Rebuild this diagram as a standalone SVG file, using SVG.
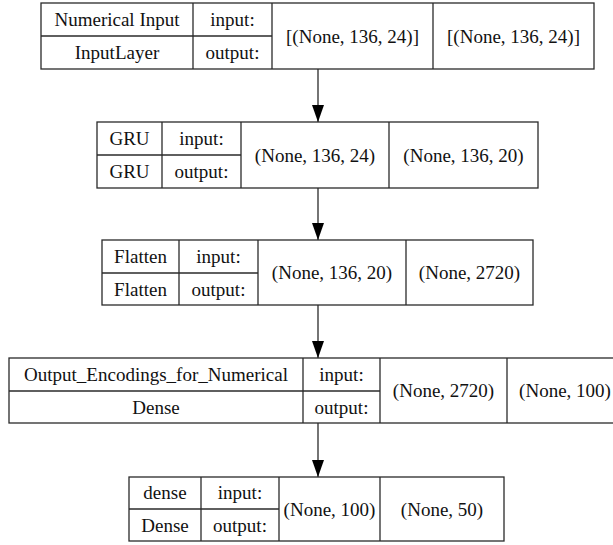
<svg xmlns="http://www.w3.org/2000/svg" width="613" height="545" viewBox="0 0 613 545">
<defs>
<style>
.b{fill:#fff;stroke:#2a2a2a;stroke-width:1.3}
.l{stroke:#2a2a2a;stroke-width:1.3;fill:none}
text{font-family:Liberation Serif,Times New Roman,Times,Noto Serif,serif;font-size:19px;fill:#111;text-anchor:middle}
</style>
<marker id="ah" markerWidth="17" markerHeight="12" refX="17" refY="6" orient="auto" markerUnits="userSpaceOnUse" viewBox="0 0 17 12">
<path d="M0,0 L17,6 L0,12 Z" fill="#000"/>
</marker>
</defs>
<rect width="613" height="545" fill="#fff"/>
<g id="connectors">
<line class="l" x1="318" y1="69" x2="318" y2="122" marker-end="url(#ah)"/>
<line class="l" x1="318" y1="188" x2="318" y2="240" marker-end="url(#ah)"/>
<line class="l" x1="318" y1="305" x2="318" y2="358" marker-end="url(#ah)"/>
<line class="l" x1="318" y1="423" x2="318" y2="477" marker-end="url(#ah)"/>
</g>
<g id="node-numerical-input">
<rect class="b" x="41" y="3" width="553" height="66"/>
<line class="l" x1="41" y1="36" x2="272" y2="36"/>
<line class="l" x1="193" y1="3" x2="193" y2="69"/>
<line class="l" x1="272" y1="3" x2="272" y2="69"/>
<line class="l" x1="433" y1="3" x2="433" y2="69"/>
<text x="117" y="26">Numerical Input</text>
<text x="117" y="59">InputLayer</text>
<text x="232.5" y="26">input:</text>
<text x="232.5" y="59">output:</text>
<text x="352.5" y="42.5">[(None, 136, 24)]</text>
<text x="513.5" y="42.5">[(None, 136, 24)]</text>
</g>
<g id="node-gru">
<rect class="b" x="97" y="122" width="441" height="66"/>
<line class="l" x1="97" y1="155" x2="241" y2="155"/>
<line class="l" x1="162" y1="122" x2="162" y2="188"/>
<line class="l" x1="241" y1="122" x2="241" y2="188"/>
<line class="l" x1="389" y1="122" x2="389" y2="188"/>
<text x="129.5" y="145">GRU</text>
<text x="129.5" y="178">GRU</text>
<text x="201.5" y="145">input:</text>
<text x="201.5" y="178">output:</text>
<text x="315" y="161.5">(None, 136, 24)</text>
<text x="463.5" y="161.5">(None, 136, 20)</text>
</g>
<g id="node-flatten">
<rect class="b" x="102" y="240" width="431" height="65"/>
<line class="l" x1="102" y1="273" x2="258" y2="273"/>
<line class="l" x1="179" y1="240" x2="179" y2="305"/>
<line class="l" x1="258" y1="240" x2="258" y2="305"/>
<line class="l" x1="406" y1="240" x2="406" y2="305"/>
<text x="140.5" y="263">Flatten</text>
<text x="140.5" y="296">Flatten</text>
<text x="218.5" y="263">input:</text>
<text x="218.5" y="296">output:</text>
<text x="332" y="279">(None, 136, 20)</text>
<text x="469.5" y="279">(None, 2720)</text>
</g>
<g id="node-output-encodings">
<rect class="b" x="9" y="358" width="614" height="65"/>
<line class="l" x1="9" y1="391" x2="380" y2="391"/>
<line class="l" x1="303" y1="358" x2="303" y2="423"/>
<line class="l" x1="380" y1="358" x2="380" y2="423"/>
<line class="l" x1="507" y1="358" x2="507" y2="423"/>
<text x="156" y="381">Output_Encodings_for_Numerical</text>
<text x="156" y="414">Dense</text>
<text x="341.5" y="381">input:</text>
<text x="341.5" y="414">output:</text>
<text x="443.5" y="397">(None, 2720)</text>
<text x="565" y="397">(None, 100)</text>
</g>
<g id="node-dense">
<rect class="b" x="129" y="477" width="375" height="64"/>
<line class="l" x1="129" y1="509" x2="279" y2="509"/>
<line class="l" x1="201" y1="477" x2="201" y2="541"/>
<line class="l" x1="279" y1="477" x2="279" y2="541"/>
<line class="l" x1="380" y1="477" x2="380" y2="541"/>
<text x="165" y="499">dense</text>
<text x="165" y="532">Dense</text>
<text x="240" y="499">input:</text>
<text x="240" y="532">output:</text>
<text x="329.5" y="515.5">(None, 100)</text>
<text x="442" y="515.5">(None, 50)</text>
</g>
</svg>
